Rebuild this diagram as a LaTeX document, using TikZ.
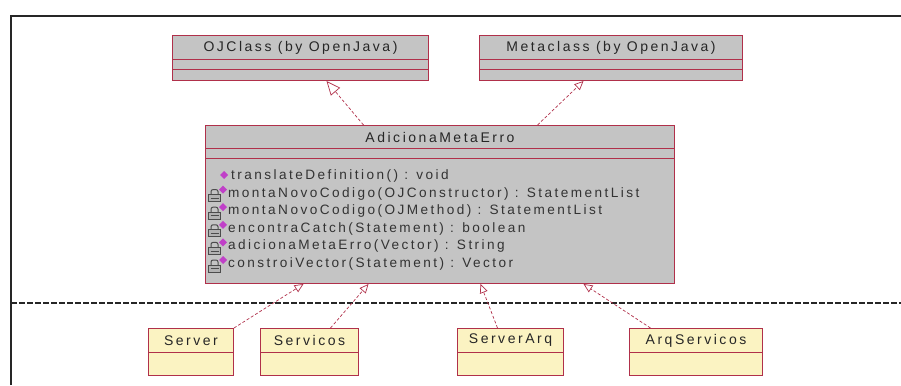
\documentclass[tikz,border=0pt]{standalone}
\usepackage{fontspec}
\setmainfont{Liberation Sans}
\newfontfamily\umlfont[LetterSpace=18]{Liberation Sans}
\usetikzlibrary{arrows.meta,positioning}

\definecolor{umlred}{HTML}{B0304A}
\definecolor{umlgray}{HTML}{C4C4C4}
\definecolor{umlyellow}{HTML}{FBF3C2}
\definecolor{opmark}{HTML}{C040C8}

\begin{document}
\begin{tikzpicture}[
  x=1pt, y=-1pt,
  cls/.style={draw=umlred, line width=1pt, inner sep=0pt, anchor=north west},
  topcls/.style={cls, fill=umlgray},
  leafcls/.style={cls, fill=umlyellow},
  clsname/.style={font=\umlfont\fontsize{14}{16}\selectfont, text=black!85, inner sep=0pt},
  op/.style={font=\umlfont\fontsize{13.6}{15}\selectfont, text=black!80, anchor=west, inner sep=0pt},
  gen/.style={umlred, densely dashed, line width=0.7pt, -{Triangle[open, length=14pt, width=12pt]}},
  dep/.style={umlred, densely dashed, line width=0.7pt, -{Triangle[open, length=9pt, width=8pt]}},
]
\useasboundingbox (0,0) rectangle (901,385);

% frame and package border
\draw[line width=1.7pt, black!85] (11,385) -- (11,16) -- (901,16);
\draw[line width=1.7pt, black!85, dash pattern=on 6pt off 2pt] (11,303) -- (901,303);

% OpenJava classes
\node[topcls, minimum width=256pt, minimum height=45pt] (ojclass) at (172,35) {};
\node[topcls, minimum width=263pt, minimum height=45pt] (metaclass) at (479,35) {};
\foreach \n in {ojclass, metaclass} {
  \draw[umlred, line width=1pt] ([yshift=-25pt]\n.north west) -- ([yshift=-25pt]\n.north east);
  \draw[umlred, line width=1pt] ([yshift=-35pt]\n.north west) -- ([yshift=-35pt]\n.north east);
}
\node[clsname] (ojclass-name) at ([yshift=-13pt]ojclass.north) {OJClass (by OpenJava)};
\node[clsname] (metaclass-name) at ([yshift=-13pt]metaclass.north) {Metaclass (by OpenJava)};

% the metaclass
\node[topcls, minimum width=469pt, minimum height=158pt] (adiciona) at (205,125) {};
\draw[umlred, line width=1pt] ([yshift=-23pt]adiciona.north west) -- ([yshift=-23pt]adiciona.north east);
\draw[umlred, line width=1pt] ([yshift=-33pt]adiciona.north west) -- ([yshift=-33pt]adiciona.north east);
\node[clsname] (adiciona-name) at ([yshift=-12pt]adiciona.north) {AdicionaMetaErro};

\fill[opmark] (224,171) -- ++(4,4) -- ++(-4,4) -- ++(-4,-4) -- cycle;
\node[op] (op0) at (231,176) {translateDefinition() : void};
\foreach \t [count=\k] in {montaNovoCodigo(OJConstructor) : StatementList,
    montaNovoCodigo(OJMethod) : StatementList,
    encontraCatch(Statement) : boolean,
    adicionaMetaErro(Vector) : String,
    constroiVector(Statement) : Vector} {
  \draw[black!70, line width=1pt, rounded corners=2pt]
    (211,{176+17.6*\k+1}) -- (211,{176+17.6*\k-4}) -- (218,{176+17.6*\k-4}) -- (218,{176+17.6*\k+1});
  \filldraw[fill=black!30, draw=black!70, line width=0.9pt] (208.5,{176+17.6*\k+1}) rectangle (220.5,{176+17.6*\k+8});
  \draw[black!70, line width=0.8pt] (210.5,{176+17.6*\k+4.5}) -- (218.5,{176+17.6*\k+4.5});
  \fill[opmark] (223,{176+17.6*\k-8}) -- ++(4,4) -- ++(-4,4) -- ++(-4,-4) -- cycle;
  \node[op] (op\k) at (228,{176+17.6*\k}) {\t};
}

% implementation classes
\foreach \n/\x/\w/\t in {server/148/85/Server, servicos/260/98/Servicos,
    serverarq/457/106/ServerArq, arqservicos/629/133/ArqServicos} {
  \node[leafcls, minimum width=\w pt, minimum height=47pt] (\n) at (\x,328) {};
  \draw[umlred, line width=1pt] ([yshift=-24pt]\n.north west) -- ([yshift=-24pt]\n.north east);
  \node[clsname] (\n-name) at ([yshift=-12.5pt]\n.north) {\t};
}

% connectors
\draw[gen] ([xshift=-76.5pt]adiciona.north) -- ([xshift=26pt]ojclass.south);
\draw[dep] ([xshift=97.5pt]adiciona.north) -- ([xshift=-27.5pt]metaclass.south);
\draw[dep] (server.north east) -- ([xshift=-136.5pt]adiciona.south);
\draw[dep] ([xshift=21pt]servicos.north) -- ([xshift=-71.5pt]adiciona.south);
\draw[dep] ([xshift=-13pt]serverarq.north) -- ([xshift=40.5pt]adiciona.south);
\draw[dep] ([xshift=-45.5pt]arqservicos.north) -- ([xshift=143.5pt]adiciona.south);
\end{tikzpicture}
\end{document}
